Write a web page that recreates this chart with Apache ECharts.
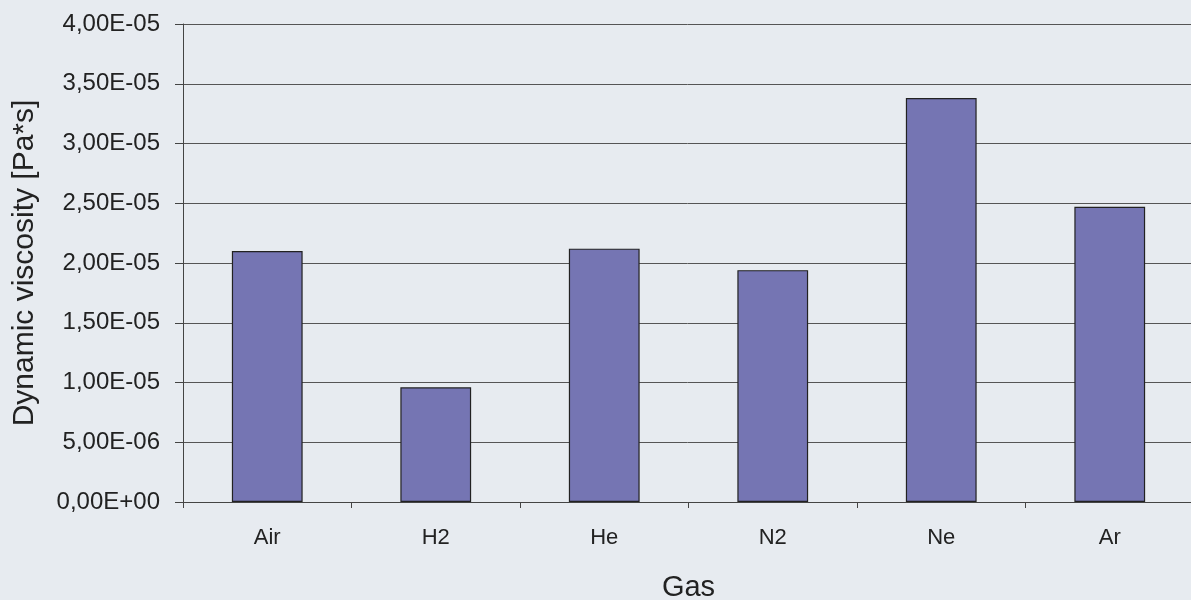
<!DOCTYPE html>
<html>
<head>
<meta charset="utf-8">
<script src="https://cdn.jsdelivr.net/npm/echarts@6/dist/echarts.min.js"></script>
<style>
html,body{margin:0;padding:0;background:#e7ebf0;}
#c{width:1191px;height:600px;}
</style>
</head>
<body>
<div id="c"></div>
<script>
const categories = ['Air', 'H2', 'He', 'N2', 'Ne', 'Ar'];
const viscosity = [2.10e-5, 9.6e-6, 2.12e-5, 1.94e-5, 3.38e-5, 2.47e-5];
const yTicks = ['0,00E+00','5,00E-06','1,00E-05','1,50E-05','2,00E-05','2,50E-05','3,00E-05','3,50E-05','4,00E-05'];

const font = '"Liberation Sans", Arial, sans-serif';
const chart = echarts.init(document.getElementById('c'), null, {renderer: 'canvas'});
chart.setOption({
  backgroundColor: '#e7ebf0',
  animation: false,
  grid: {left: 183, right: -3, top: 24, bottom: 98, containLabel: false, outerBoundsMode: 'none'},
  xAxis: {
    type: 'category',
    data: categories,
    name: 'Gas',
    nameLocation: 'middle',
    nameGap: 71,
    nameTextStyle: {fontFamily: font, fontSize: 29, color: '#222'},
    axisLine: {lineStyle: {color: '#444', width: 1}},
    axisTick: {show: true, length: 6, lineStyle: {color: '#444'}},
    axisLabel: {fontFamily: font, fontSize: 22, color: '#222', margin: 25}
  },
  yAxis: {
    type: 'value',
    min: 0,
    max: 4e-5,
    interval: 5e-6,
    name: 'Dynamic viscosity [Pa*s]',
    nameLocation: 'middle',
    nameGap: 143,
    nameTextStyle: {fontFamily: font, fontSize: 30, color: '#222'},
    axisLine: {show: true, lineStyle: {color: '#444', width: 1}},
    axisTick: {show: true, length: 8, lineStyle: {color: '#444'}},
    splitLine: {show: true, lineStyle: {color: '#555', width: 1}},
    axisLabel: {
      fontFamily: font, fontSize: 24, color: '#222', margin: 23,
      formatter: function (v) { return yTicks[Math.round(v / 5e-6)]; }
    }
  },
  series: [{
    type: 'bar',
    data: viscosity,
    barWidth: '42%',
    itemStyle: {color: '#7575b3', borderColor: '#222', borderWidth: 1.2}
  }]
});
</script>
</body>
</html>
